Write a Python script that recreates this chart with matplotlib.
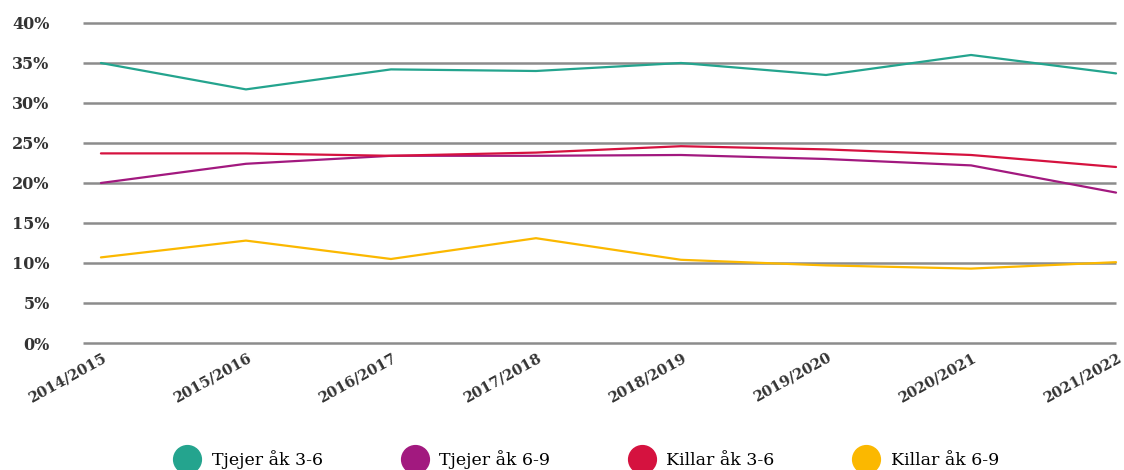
import matplotlib
matplotlib.use("Agg")
import matplotlib.pyplot as plt
from matplotlib.lines import Line2D
from matplotlib.ticker import FuncFormatter
from matplotlib.transforms import ScaledTranslation

years = ["2014/2015", "2015/2016", "2016/2017", "2017/2018",
         "2018/2019", "2019/2020", "2020/2021", "2021/2022"]

tjejer_3_6 = [35.0, 31.7, 34.2, 34.0, 35.0, 33.5, 36.0, 33.7]
tjejer_6_9 = [20.0, 22.4, 23.4, 23.4, 23.5, 23.0, 22.2, 18.8]
killar_3_6 = [23.7, 23.7, 23.4, 23.8, 24.6, 24.2, 23.5, 22.0]
killar_6_9 = [10.7, 12.8, 10.5, 13.1, 10.4, 9.7, 9.3, 10.1]

series = [
    ("Tjejer åk 3-6", tjejer_3_6, "#24a48e"),
    ("Tjejer åk 6-9", tjejer_6_9, "#a2197f"),
    ("Killar åk 3-6", killar_3_6, "#d5123f"),
    ("Killar åk 6-9", killar_6_9, "#fbb800"),
]
y_ticks = [0, 5, 10, 15, 20, 25, 30, 35, 40]

plt.rcParams["font.family"] = ["DejaVu Serif"]

fig = plt.figure(figsize=(11.24, 4.70), dpi=100)
ax = fig.add_axes([0.0738, 0.2617, 0.9253, 0.6979])

x = list(range(len(years)))
ax.hlines(y_ticks, -0.124, len(years) - 1, color="#8c8c8c", lw=1.8, zorder=1)

for label, vals, color in series:
    ax.plot(x, vals, color=color, lw=1.6, zorder=3, solid_capstyle="round")

ax.set_xlim(-0.124, 7.048)
ax.set_ylim(-0.5, 40.5)
ax.set_yticks(y_ticks)
ax.yaxis.set_major_formatter(FuncFormatter(lambda v, _: f"{v:.0f}%"))
ax.set_xticks(x)
ax.set_xticklabels(years, rotation=29, ha="right", va="center",
                   rotation_mode="anchor")
ax.tick_params(axis="y", length=0, pad=24, labelsize=11.5, labelcolor="#333333")
ax.tick_params(axis="x", length=0, pad=7, labelsize=10.5, labelcolor="#333333")
shift = ScaledTranslation(4 / 100, 0, fig.dpi_scale_trans)
for lbl in ax.get_xticklabels():
    lbl.set_transform(lbl.get_transform() + shift)
for lbl in ax.get_yticklabels() + ax.get_xticklabels():
    lbl.set_fontweight("bold")
for spine in ax.spines.values():
    spine.set_visible(False)

handles = [Line2D([], [], marker="o", ls="none", markersize=20,
                  markerfacecolor=c, markeredgecolor=c, label=l)
           for l, _, c in series]
fig.legend(handles=handles, loc="center", ncol=4, frameon=False,
           bbox_to_anchor=(0.5215, 1 - 460 / 470), fontsize=12.5,
           columnspacing=4.5, handletextpad=0.6, handlelength=1.6,
           borderpad=0, borderaxespad=0)

fig.savefig("out.png", dpi=100)
